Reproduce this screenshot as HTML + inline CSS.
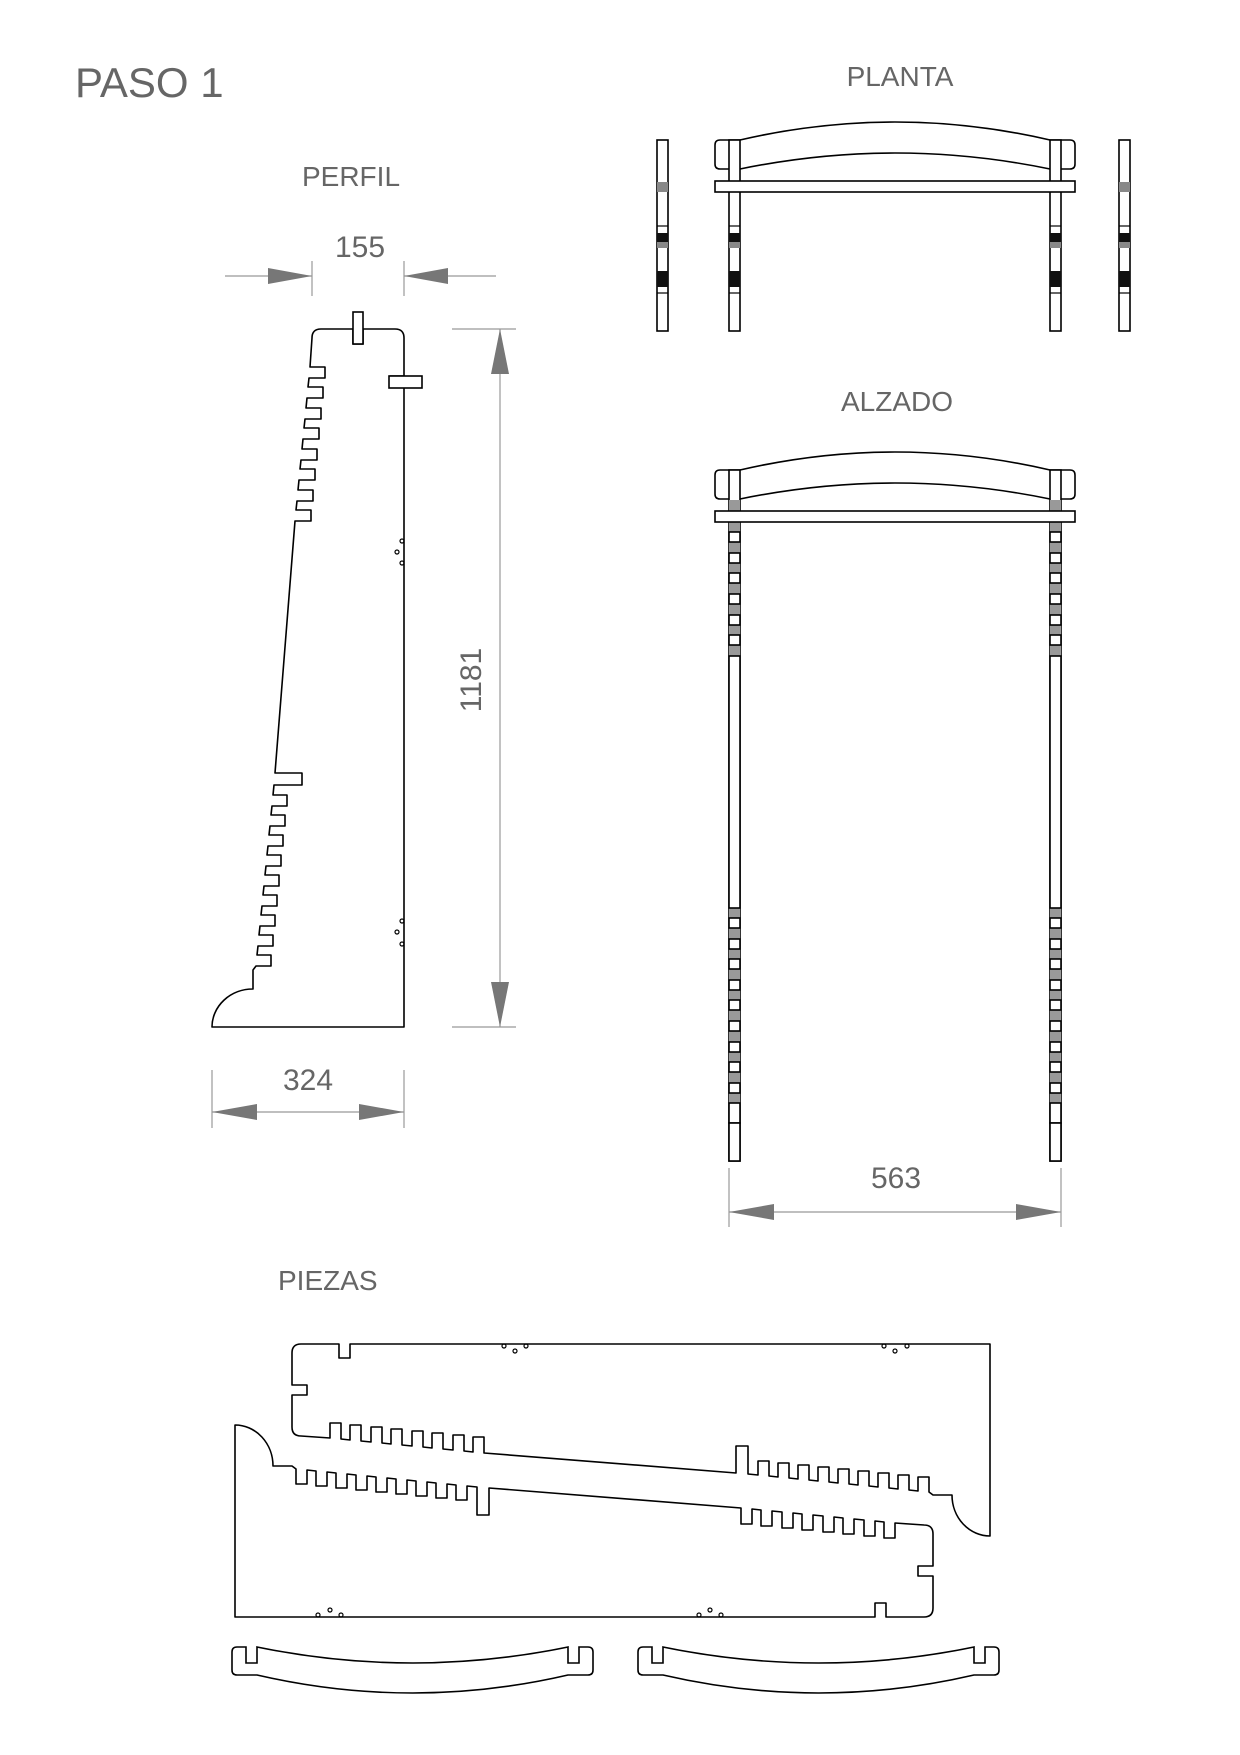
<!DOCTYPE html>
<html><head><meta charset="utf-8"><style>
html,body{margin:0;padding:0;background:#fff;}
svg{display:block;}
text{font-family:"Liberation Sans",Arial,sans-serif;fill:#666;}
</style></head><body>
<svg width="1240" height="1755" viewBox="0 0 1240 1755" xmlns="http://www.w3.org/2000/svg">
<defs>
<path id="pf" d="M321,329 H353 V344 H363 V329 H395 Q404,329 404,338 V376 H390 V387 H404 V1027 H212 A41,38 0 0 1 253,989 L253,970
L256,966 H271 V955 H257 L258,946 H273 V935 H259 L260,926 H275 V915 H261 L262,906 H277 V895 H263 L264,886 H279 V875 H265
L266,866 H281 V855 H267 L268,846 H283 V835 H269 L270,826 H285 V815 H271 L272,806 H287 V795 H273 L274,785 H302 V773 H275
L295,521 H311 V510 H296 L297,501 H313 V490 H298 L299,480 H315 V469 H300 L301,460 H317 V449 H302 L303,439 H319 V428 H304
L305,419 H321 V408 H306 L307,398 H323 V387 H308 L309,378 H325 V367 H310 L312,338 Q312,329 321,329 Z" fill="#fff" stroke="#000" stroke-width="1.6" stroke-linejoin="round"/>
<g id="holes" fill="none" stroke="#000" stroke-width="1.2">
<circle cx="402" cy="541" r="2"/><circle cx="397" cy="552" r="2"/><circle cx="402" cy="563" r="2"/>
<circle cx="402" cy="921" r="2"/><circle cx="397" cy="932" r="2"/><circle cx="402" cy="944" r="2"/>
</g>
<path id="rail" d="M237,1647 H246 V1663 H257 V1647 Q413,1679 568,1647 V1663 H579 V1647 H588 Q593,1647 593,1652 V1670 Q593,1675 588,1675 H568 Q413,1711 257,1675 H237 Q232,1675 232,1670 V1652 Q232,1647 237,1647 Z" fill="#fff" stroke="#000" stroke-width="1.6"/>
<path id="toprail" d="M720,140 H740 Q895,104 1050,140 H1070 Q1075,140 1075,145 V164 Q1075,169 1070,169 H1050 Q895,137 740,169 H720 Q715,169 715,164 V145 Q715,140 720,140 Z" fill="#fff" stroke="#000" stroke-width="1.6"/>
<g id="pbar">
<rect x="0" y="140" width="11" height="191" fill="#fff" stroke="#000" stroke-width="1.6"/>
<rect x="0" y="233" width="11" height="9" fill="#111"/>
<rect x="0" y="242" width="11" height="6" fill="#888"/>
<rect x="0" y="271" width="11" height="16" fill="#111"/>
<line x1="0" y1="226" x2="11" y2="226" stroke="#000" stroke-width="1.2"/>
<line x1="0" y1="293" x2="11" y2="293" stroke="#000" stroke-width="1.2"/>
</g>
<g id="leg">
<rect x="0" y="470" width="11" height="691" fill="#fff" stroke="#000" stroke-width="1.6"/>
<rect x="0" y="500" width="11" height="156" fill="#999"/>
<rect x="0" y="908" width="11" height="195" fill="#999"/>
<g fill="#fff" stroke="#000" stroke-width="1.6">
<rect x="0" y="532" width="11" height="10"/><rect x="0" y="553" width="11" height="10"/><rect x="0" y="573" width="11" height="10"/>
<rect x="0" y="594" width="11" height="10"/><rect x="0" y="615" width="11" height="10"/><rect x="0" y="635" width="11" height="10"/>
<rect x="0" y="656" width="11" height="252"/>
<rect x="0" y="918" width="11" height="10"/><rect x="0" y="939" width="11" height="10"/><rect x="0" y="959" width="11" height="10"/>
<rect x="0" y="980" width="11" height="10"/><rect x="0" y="1000" width="11" height="10"/><rect x="0" y="1021" width="11" height="10"/>
<rect x="0" y="1042" width="11" height="10"/><rect x="0" y="1062" width="11" height="10"/><rect x="0" y="1083" width="11" height="10"/>
<rect x="0" y="1103" width="11" height="20"/><rect x="0" y="1123" width="11" height="38"/>
</g>
</g>
</defs>

<text x="75" y="97" font-size="42">PASO 1</text>
<text x="900" y="86" font-size="28" text-anchor="middle">PLANTA</text>
<text x="351" y="186" font-size="28" text-anchor="middle">PERFIL</text>
<text x="897" y="411" font-size="28" text-anchor="middle">ALZADO</text>
<text x="278" y="1290" font-size="28">PIEZAS</text>

<use href="#pf"/>
<use href="#holes"/>
<rect x="353" y="312" width="10" height="32" fill="#fff" stroke="#000" stroke-width="1.6"/>
<rect x="389" y="376" width="33" height="12" fill="#fff" stroke="#000" stroke-width="1.6"/>

<g stroke="#999" stroke-width="1.2">
<line x1="312" y1="261" x2="312" y2="296"/><line x1="404" y1="261" x2="404" y2="296"/>
<line x1="225" y1="276" x2="312" y2="276"/><line x1="404" y1="276" x2="496" y2="276"/>
<line x1="452" y1="329" x2="516" y2="329"/><line x1="452" y1="1027" x2="516" y2="1027"/>
<line x1="500" y1="329" x2="500" y2="1027"/>
<line x1="212" y1="1070" x2="212" y2="1128"/><line x1="404" y1="1070" x2="404" y2="1128"/>
<line x1="212" y1="1112" x2="404" y2="1112"/>
<line x1="729" y1="1168" x2="729" y2="1227"/><line x1="1061" y1="1168" x2="1061" y2="1227"/>
<line x1="729" y1="1212" x2="1061" y2="1212"/>
</g>
<g fill="#777">
<polygon points="312,276 268,268 268,284"/><polygon points="404,276 448,268 448,284"/>
<polygon points="500,329 491,374 509,374"/><polygon points="500,1027 491,982 509,982"/>
<polygon points="212,1112 257,1104 257,1120"/><polygon points="404,1112 359,1104 359,1120"/>
<polygon points="729,1212 774,1204 774,1220"/><polygon points="1061,1212 1016,1204 1016,1220"/>
</g>
<text x="360" y="257" font-size="30" text-anchor="middle">155</text>
<text x="308" y="1090" font-size="30" text-anchor="middle">324</text>
<text x="896" y="1188" font-size="30" text-anchor="middle">563</text>
<text x="481" y="680" font-size="30" text-anchor="middle" transform="rotate(-90 481 680)">1181</text>

<use href="#toprail"/>
<use href="#pbar" transform="translate(657,0)"/>
<use href="#pbar" transform="translate(729,0)"/>
<use href="#pbar" transform="translate(1050,0)"/>
<use href="#pbar" transform="translate(1119,0)"/>
<rect x="657" y="182" width="11" height="10" fill="#888"/>
<rect x="1119" y="182" width="11" height="10" fill="#888"/>
<rect x="715" y="181" width="360" height="11" fill="#fff" stroke="#000" stroke-width="1.6"/>

<use href="#toprail" transform="translate(0,330)"/>
<use href="#leg" transform="translate(729,0)"/>
<use href="#leg" transform="translate(1050,0)"/>
<rect x="715" y="511" width="360" height="11" fill="#fff" stroke="#000" stroke-width="1.6"/>

<use href="#pf" transform="matrix(0,-1,1,0,-37,1748)"/>
<use href="#holes" transform="matrix(0,-1,1,0,-37,1748)"/>
<use href="#pf" transform="matrix(0,1,-1,0,1262,1213)"/>
<use href="#holes" transform="matrix(0,1,-1,0,1262,1213)"/>
<use href="#rail"/>
<use href="#rail" transform="translate(406,0)"/>
</svg>
</body></html>
